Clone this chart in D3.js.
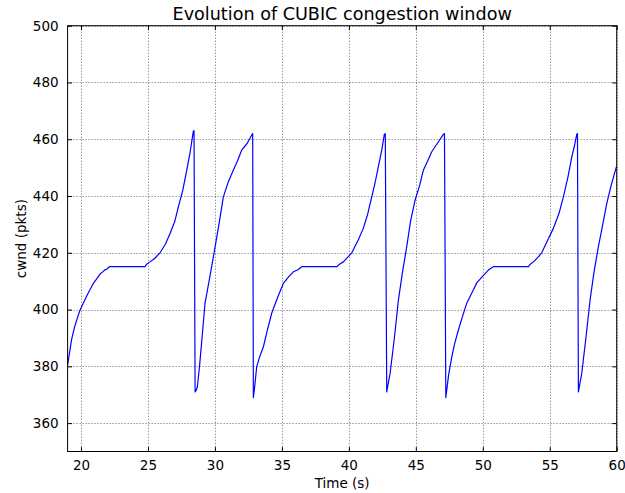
<!DOCTYPE html>
<html><head><meta charset="utf-8">
<script src="https://cdn.jsdelivr.net/npm/d3@7"></script>
<style>body{margin:0;background:#fff}svg{display:block}text{font-family:"DejaVu Sans",sans-serif}</style>
</head><body><svg id="c" width="625" height="493"></svg>
<script>
const time = [19.0,19.15,19.3,19.5,19.68,19.9,20.17,20.5,20.92,21.2,21.42,21.6,21.8,21.95,22.11,24.78,24.9,25.15,25.5,25.9,26.3,26.65,27.0,27.27,27.6,27.9,28.15,28.39,28.44,28.52,28.6,28.69,28.85,29.0,29.26,29.6,29.93,30.3,30.63,31.0,31.38,31.7,32.0,32.4,32.75,32.82,32.87,32.95,33.12,33.35,33.62,33.9,34.24,34.7,35.11,35.5,35.86,36.2,36.48,39.1,39.3,39.59,40.22,40.7,41.08,41.4,41.71,41.95,42.2,42.45,42.65,42.72,42.83,43.08,43.4,43.7,44.0,44.32,44.6,44.95,45.3,45.57,45.9,46.19,46.6,47.06,47.14,47.24,47.45,47.69,47.9,48.18,48.5,48.8,49.2,49.55,50.0,50.42,50.79,53.41,53.55,53.78,54.1,54.4,54.8,55.27,55.7,56.02,56.35,56.65,56.85,57.02,57.07,57.14,57.39,57.7,58.01,58.3,58.63,59.0,59.26,59.6,59.95,60.0];
const cwnd = [380.4,385.0,389.5,393.5,396.3,399.5,402.2,405.5,409.2,411.0,412.5,413.2,414.0,414.3,415.1,415.1,416.0,416.8,418.0,420.0,423.0,426.8,431.0,436.2,442.0,449.2,455.5,462.9,463.0,371.0,371.5,372.8,380.0,388.0,402.2,411.0,419.8,430.0,439.7,445.0,449.2,452.5,456.2,458.5,461.5,462.0,369.0,372.0,379.8,383.5,386.9,392.5,398.7,404.5,409.2,411.5,413.3,414.0,415.1,415.1,416.0,416.8,420.0,424.5,428.6,433.5,439.7,444.5,450.3,456.0,461.7,462.0,371.0,377.5,390.0,403.3,413.0,422.1,431.0,438.6,444.0,449.2,452.5,455.6,458.5,461.7,462.0,369.0,377.0,383.4,388.0,392.8,397.8,402.2,406.0,409.4,411.8,413.9,415.1,415.1,416.0,416.8,418.3,420.0,424.0,428.6,434.0,439.7,446.5,453.8,457.8,461.7,462.0,371.0,377.5,390.0,403.3,413.0,422.1,431.0,437.4,444.0,449.8,450.5];
const xTicks = [20,25,30,35,40,45,50,55,60];
const yTicks = [360,380,400,420,440,460,480,500];
const titleText = "Evolution of CUBIC congestion window";
const xLabel = "Time (s)";
const yLabel = "cwnd (pkts)";

const L=67.6, R=616.7, T=25.7, B=451.5;
const svg = d3.select("#c");
const x = d3.scaleLinear().domain([19,60]).range([L,R]);
const y = d3.scaleLinear().domain([350,500]).range([B,T]);
const data = time.map((t,i)=>({t, c:cwnd[i]}));

// grid
const g = svg.append("g");
g.selectAll(".gx").data(xTicks).join("line")
  .attr("x1",d=>Math.round(x(d))+0.5).attr("x2",d=>Math.round(x(d))+0.5).attr("y1",T).attr("y2",B)
  .attr("stroke","#000").attr("stroke-width",0.6).attr("stroke-dasharray","1,2");
g.selectAll(".gy").data(yTicks).join("line")
  .attr("y1",d=>Math.round(y(d))+0.5).attr("y2",d=>Math.round(y(d))+0.5).attr("x1",L).attr("x2",R)
  .attr("stroke","#000").attr("stroke-width",0.6).attr("stroke-dasharray","1,2");

// line
svg.append("defs").append("clipPath").attr("id","clip").append("rect").attr("x",L).attr("y",T).attr("width",R-L).attr("height",B-T);
svg.append("path").datum(data).attr("clip-path","url(#clip)")
  .attr("d", d3.line().x(d=>x(d.t)).y(d=>y(d.c)))
  .attr("fill","none").attr("stroke","#0000ff").attr("stroke-width",1.2).attr("stroke-linejoin","round");

// axes
const fs = "13.5px";
const ax = svg.append("g").attr("transform",`translate(0,${B})`).call(d3.axisBottom(x).tickValues(xTicks).tickSizeInner(-4.4).tickSizeOuter(0).tickPadding(9));
const axT = svg.append("g").attr("transform",`translate(0,${T})`).call(d3.axisTop(x).tickValues(xTicks).tickSizeInner(-4.4).tickSizeOuter(0).tickFormat(""));
const ay = svg.append("g").attr("transform",`translate(${L},0)`).call(d3.axisLeft(y).tickValues(yTicks).tickSizeInner(-4.4).tickSizeOuter(0).tickPadding(9));
const ayR = svg.append("g").attr("transform",`translate(${R},0)`).call(d3.axisRight(y).tickValues(yTicks).tickSizeInner(-4.4).tickSizeOuter(0).tickFormat(""));
[ax,axT,ay,ayR].forEach(a=>{
  a.select(".domain").remove();
  a.selectAll("line").attr("stroke","#000").attr("stroke-width",1);
  a.selectAll("text").attr("font-size",fs).attr("fill","#000").attr("font-family","DejaVu Sans");
});
svg.append("rect").attr("x",L).attr("y",T).attr("width",R-L).attr("height",B-T).attr("fill","none").attr("stroke","#000").attr("stroke-width",1);

svg.append("text").attr("x",(L+R)/2).attr("y",20).attr("text-anchor","middle").attr("font-size","17.6px").text(titleText);
svg.append("text").attr("x",(L+R)/2).attr("y",488).attr("text-anchor","middle").attr("font-size",fs).text(xLabel);
svg.append("text").attr("transform",`translate(26,${(T+B)/2}) rotate(-90)`).attr("text-anchor","middle").attr("font-size",fs).text(yLabel);
</script></body></html>
